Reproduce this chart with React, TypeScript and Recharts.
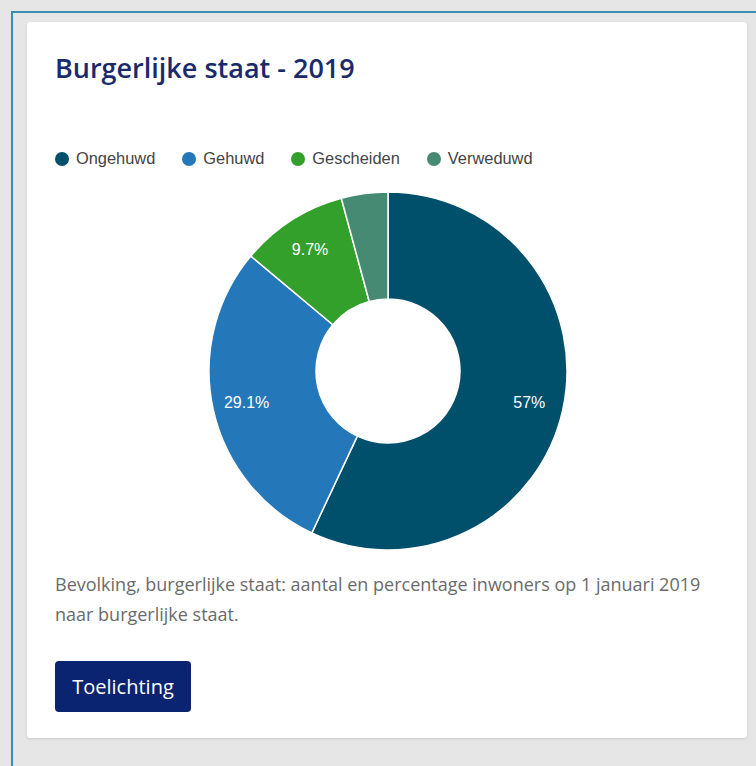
import { PieChart, Pie, Cell, Legend } from 'recharts';

// --- Burgerlijke staat 2019 ---
const categories = ['Ongehuwd', 'Gehuwd', 'Gescheiden', 'Verweduwd'];
const percentages = [57, 29.1, 9.7, 4.2];
const COLORS = ['#00506b', '#2477b8', '#33a02c', '#468a73'];

const pieData = categories.map((name, i) => ({ name, value: percentages[i] }));

const RADIAN = Math.PI / 180;

// white percentage label inside the slice, small slices get none
const renderLabel = (props: any) => {
  const { cx, cy, midAngle, innerRadius, outerRadius, value } = props;
  if (value < 5) return null;
  const r = innerRadius + (outerRadius - innerRadius) * 0.68;
  const x = cx + r * Math.cos(-midAngle * RADIAN);
  const y = cy + r * Math.sin(-midAngle * RADIAN);
  return (
    <text
      x={x}
      y={y}
      fill="#ffffff"
      textAnchor="middle"
      dominantBaseline="central"
      fontSize={16}
      fontFamily="Arial, 'Liberation Sans', sans-serif"
    >
      {`${value}%`}
    </text>
  );
};

const LegendContent = (props: any) => {
  const items = [...(props.payload || [])].sort(
    (a: any, b: any) => categories.indexOf(a.value) - categories.indexOf(b.value)
  );
  return (
    <div style={{ display: 'flex', gap: 27, paddingLeft: 28 }}>
      {items.map((entry: any, i: number) => (
        <div key={`leg-${i}`} style={{ display: 'flex', alignItems: 'center' }}>
          <span
            style={{
              width: 14,
              height: 14,
              borderRadius: '50%',
              background: entry.color,
              display: 'inline-block',
              marginRight: 7,
            }}
          />
          <span style={{ fontSize: 16.4, color: '#444', fontFamily: "Arial, 'Liberation Sans', sans-serif" }}>
            {entry.value}
          </span>
        </div>
      ))}
    </div>
  );
};

export default function App() {
  return (
    <div
      style={{
        position: 'absolute',
        left: 0,
        top: 0,
        width: 756,
        height: 766,
        overflow: 'hidden',
        background: '#e6e6e6',
      }}
    >
      <div
        style={{
          position: 'absolute',
          left: 11,
          top: 11,
          width: 800,
          height: 800,
          border: '2px solid #3a8db0',
        }}
      />
      <div
        style={{
          position: 'absolute',
          left: 27,
          top: 22,
          width: 720,
          height: 716,
          background: '#ffffff',
          borderRadius: 3,
          boxShadow: '0 1px 3px rgba(0,0,0,0.12)',
        }}
      >
        <div
          style={{
            position: 'absolute',
            left: 28,
            top: 27,
            fontFamily: "'Open Sans', sans-serif",
            fontWeight: 600,
            fontSize: 27,
            color: '#1b2a6b',
            whiteSpace: 'nowrap',
          }}
        >
          Burgerlijke staat - 2019
        </div>

        <div style={{ position: 'absolute', left: 0, top: 108 }}>
          <PieChart width={720} height={440} margin={{ top: 0, right: 0, bottom: 0, left: 0 }}>
            <Legend
              verticalAlign="top"
              align="left"
              content={<LegendContent />}
              wrapperStyle={{ top: 19, left: 0 }}
            />
            <Pie
              data={pieData}
              dataKey="value"
              nameKey="name"
              cx={361}
              cy={222}
              innerRadius={72}
              outerRadius={179}
              startAngle={90}
              endAngle={-270}
              stroke="#ffffff"
              strokeWidth={1.5}
              label={renderLabel}
              labelLine={false}
              isAnimationActive={false}
            >
              {pieData.map((_, index) => (
                <Cell key={`cell-${index}`} fill={COLORS[index % COLORS.length]} />
              ))}
            </Pie>
          </PieChart>
        </div>

        <div
          style={{
            position: 'absolute',
            left: 28,
            top: 547,
            width: 660,
            fontFamily: "'Open Sans', sans-serif",
            fontSize: 18,
            lineHeight: '30px',
            color: '#6b6b6b',
          }}
        >
          Bevolking, burgerlijke staat: aantal en percentage inwoners op 1 januari 2019 naar burgerlijke staat.
        </div>

        <div
          style={{
            position: 'absolute',
            left: 28,
            top: 639,
            width: 136,
            height: 51,
            background: '#0b2471',
            borderRadius: 4,
            color: '#ffffff',
            fontFamily: "'Open Sans', sans-serif",
            fontSize: 20,
            display: 'flex',
            alignItems: 'center',
            justifyContent: 'center',
          }}
        >
          Toelichting
        </div>
      </div>
    </div>
  );
}
